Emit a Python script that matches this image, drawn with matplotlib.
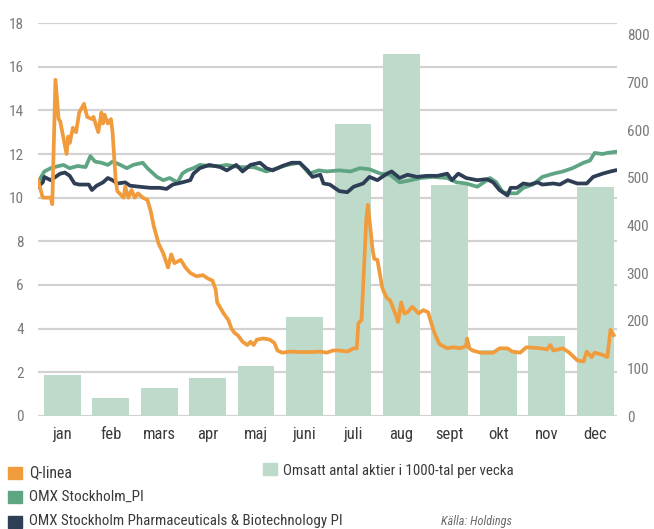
import matplotlib
matplotlib.use("Agg")
import matplotlib.pyplot as plt
from matplotlib import font_manager
from matplotlib.patches import Rectangle
import numpy as np

# ---------------- data ----------------
months = ["jan", "feb", "mars", "apr", "maj", "juni", "juli", "aug", "sept", "okt", "nov", "dec"]
volume = [86, 38, 58, 79, 104, 207, 613, 760, 485, 139, 167, 480]

q_day = [0, 3, 8, 9, 11, 13, 14, 18, 19, 20, 22, 24, 26, 29, 31, 34, 35, 38, 40, 41, 42, 44, 46, 47,
         49, 50, 54, 55, 57, 59, 61, 63, 66, 69, 71, 73, 76, 79, 82, 84, 86, 90, 93, 96, 100, 104,
         107, 110, 112, 113, 117, 120, 122, 124, 126, 129, 132, 134, 136, 138, 142, 146, 149, 151,
         154, 159, 165, 173, 178, 182, 186, 190, 195, 199, 201, 202, 204, 207, 208, 211, 212, 214,
         217, 218, 220, 222, 226, 227, 229, 231, 233, 236, 240, 243, 246, 248, 250, 253, 258, 262,
         266, 270, 270.5, 272, 274, 279, 287, 291, 296, 299, 304, 308, 317, 321, 323, 325, 331, 335,
         340, 344, 346, 349, 351, 356, 359, 361, 363]
q_val = [10.8, 10.0, 10.0, 9.7, 15.4, 13.6, 13.5, 12.0, 12.8, 12.5, 13.2, 13.0, 13.9, 14.3, 13.7,
         13.6, 13.7, 13.0, 13.9, 13.4, 13.8, 13.4, 13.6, 13.0, 10.8, 10.3, 10.0, 10.5, 10.0, 10.35,
         10.0, 10.2, 10.0, 9.9, 9.4, 8.7, 7.9, 7.45, 6.8, 7.4, 7.0, 7.15, 6.8, 6.55, 6.4, 6.45, 6.3,
         6.2, 5.8, 5.2, 4.7, 4.4, 4.0, 3.8, 3.7, 3.4, 3.25, 3.4, 3.25, 3.5, 3.55, 3.5, 3.35, 3.0,
         2.9, 2.95, 2.93, 2.93, 2.95, 2.9, 3.0, 3.0, 2.95, 3.1, 3.1, 4.25, 4.4, 9.0, 9.67, 7.6, 7.2,
         7.15, 5.9, 5.7, 5.4, 5.3, 4.55, 4.3, 5.2, 4.7, 4.75, 5.0, 4.7, 4.85, 4.75, 4.25, 3.8, 3.3,
         3.1, 3.15, 3.1, 3.2, 3.55, 3.1, 3.0, 2.9, 2.9, 3.1, 3.1, 2.95, 2.9, 3.15, 3.1, 3.05, 3.25,
         3.0, 3.1, 2.9, 2.55, 2.5, 2.95, 2.7, 2.9, 2.8, 2.7, 3.95, 3.7]

omx_day = [0, 4, 8, 13, 16, 20, 25, 30, 33, 36, 40, 44, 47, 52, 56, 60, 66, 69, 75, 79, 83, 88, 91,
           94, 98, 102, 108, 115, 119, 127, 136, 144, 151, 157, 165, 171, 177, 182, 190, 197, 203,
           209, 216, 222, 228, 235, 241, 249, 258, 264, 270, 277, 283, 285, 289, 293, 298, 302, 306,
           312, 318, 325, 331, 337, 344, 348, 351, 356, 359, 364]
omx_val = [10.7, 11.2, 11.35, 11.45, 11.5, 11.35, 11.45, 11.4, 11.9, 11.65, 11.6, 11.5, 11.65, 11.5,
           11.35, 11.5, 11.6, 11.35, 10.95, 10.8, 10.9, 10.7, 11.1, 11.25, 11.35, 11.5, 11.45, 11.45,
           11.5, 11.4, 11.4, 11.2, 11.35, 11.5, 11.6, 11.1, 11.25, 11.2, 11.25, 11.2, 11.35, 11.3,
           11.1, 11.05, 10.7, 10.8, 10.9, 10.95, 10.9, 10.7, 10.65, 10.5, 10.8, 10.9, 10.7, 10.25,
           10.2, 10.2, 10.45, 10.6, 10.95, 11.1, 11.2, 11.35, 11.6, 11.7, 12.05, 12.0, 12.05, 12.1]

pharma_day = [0, 3, 4, 8, 11, 14, 17, 20, 23, 26, 32, 34, 37, 41, 44, 47, 50, 55, 58, 64, 71, 77,
              81, 85, 91, 96, 98, 102, 108, 115, 119, 125, 129, 134, 140, 144, 148, 154, 160, 165,
              170, 173, 178, 180, 184, 190, 195, 199, 205, 209, 214, 220, 223, 228, 233, 239, 245,
              252, 258, 261, 265, 270, 277, 283, 287, 291, 296, 298, 302, 306, 310, 315, 318, 325,
              329, 334, 340, 346, 350, 356, 361, 364]
pharma_val = [10.5, 10.7, 10.95, 10.8, 10.95, 11.1, 11.15, 11.0, 10.65, 10.6, 10.6, 10.35, 10.55,
              10.7, 10.9, 10.8, 10.65, 10.7, 10.55, 10.5, 10.45, 10.45, 10.4, 10.6, 10.7, 10.8, 11.1,
              11.35, 11.5, 11.4, 11.25, 11.5, 11.2, 11.5, 11.6, 11.35, 11.25, 11.45, 11.6, 11.6,
              11.25, 10.95, 11.05, 10.65, 10.6, 10.3, 10.25, 10.5, 10.65, 10.95, 10.8, 11.1, 11.2,
              10.9, 11.05, 10.95, 11.0, 11.0, 11.1, 10.8, 11.1, 10.9, 10.8, 10.85, 10.7, 10.35, 10.1,
              10.45, 10.45, 10.65, 10.6, 10.7, 10.6, 10.65, 10.6, 10.8, 10.65, 10.65, 10.95, 11.1,
              11.2, 11.25]

left_ticks = list(range(0, 19, 2))
right_ticks = list(range(0, 801, 100))

legend_labels = ["Q-linea", "OMX Stockholm_PI", "OMX Stockholm Pharmaceuticals & Biotechnology PI"]
bar_label = "Omsatt antal aktier i 1000-tal per vecka"
source = "Källa: Holdings"

# ---------------- style ----------------
def pick(names):
    for n in names:
        try:
            font_manager.findfont(font_manager.FontProperties(family=n), fallback_to_default=False)
            return n
        except Exception:
            continue
    return "DejaVu Sans"

FONT = pick(["Roboto Condensed", "Open Sans Condensed", "Liberation Sans Narrow", "Roboto", "Lato"])
plt.rcParams["font.family"] = [FONT, "DejaVu Sans"]

C_Q = "#F09C3C"
C_OMX = "#5FA584"
C_PH = "#2E3E54"
C_BAR = "#BEDACB"
C_GRID = "#D2D2D2"
C_TICK = "#7A7A7A"
C_TXT = "#3A3A3A"

fig = plt.figure(figsize=(6.54, 5.29), dpi=100)
ax = fig.add_axes([38 / 654, 1 - 416 / 529, (617 - 38) / 654, (416 - 23) / 529])
ax2 = ax.twinx()

# bars (right axis, drawn first)
x = np.arange(len(months))
ax.bar(x, volume, width=0.76, color=C_BAR, zorder=2)
ax.set_ylim(0, 825)
ax.set_xlim(-0.5, 11.45)
ax.yaxis.tick_right()
ax.set_yticks(right_ticks)
ax.tick_params(axis="y", length=0, pad=7, labelsize=11, labelcolor=C_TICK)
ax.set_xticks(x)
ax.set_xticklabels(months)
ax.tick_params(axis="x", length=0, pad=8, labelsize=12, labelcolor=C_TXT)
for v in left_ticks:
    ax.axhline(v * 825 / 18, color=C_GRID, lw=1.6, zorder=1)
for s in ax.spines.values():
    s.set_visible(False)

def pos(days):
    return np.asarray(days, dtype=float) / 30.55 - 0.5

ax2.plot(pos(omx_day), omx_val, color=C_OMX, lw=2.7, solid_joinstyle="round")
ax2.plot(pos(pharma_day), pharma_val, color=C_PH, lw=2.7, solid_joinstyle="round")
ax2.plot(pos(q_day), q_val, color=C_Q, lw=2.7, solid_joinstyle="round")
ax2.set_ylim(0, 18)
ax2.yaxis.tick_left()
ax2.set_yticks(left_ticks)
ax2.tick_params(axis="y", length=0, pad=10, labelsize=11, labelcolor=C_TICK)
for s in ax2.spines.values():
    s.set_visible(False)

# legend (manual)
def square(x0, y0, color):
    fig.patches.append(Rectangle((x0 / 654, 1 - (y0 + 12) / 529), 14 / 654, 12 / 529,
                                 transform=fig.transFigure, color=color, zorder=5))

square(8, 467, C_Q)
square(8, 491, C_OMX)
square(8, 516, C_PH)
square(263, 463, C_BAR)

fig.canvas.draw()
renderer = fig.canvas.get_renderer()

def fitted_text(xpx, ypx, s, width_px, ha="left", **kw):
    t = fig.text(xpx / 654, 1 - ypx / 529, s, fontsize=12, va="center", ha=ha, **kw)
    w = t.get_window_extent(renderer).width
    t.set_fontsize(min(13.5, 12 * width_px / w))
    return t

fitted_text(29, 473, legend_labels[0], 43, color=C_TXT)
fitted_text(29, 497, legend_labels[1], 115, color=C_TXT)
fitted_text(29, 521, legend_labels[2], 311, color=C_TXT)
fitted_text(283, 471, bar_label, 229, color=C_TXT)
fitted_text(512, 521, source, 71, ha="right", style="italic", color="#6A6A6A")

fig.savefig("out.png", dpi=100)
